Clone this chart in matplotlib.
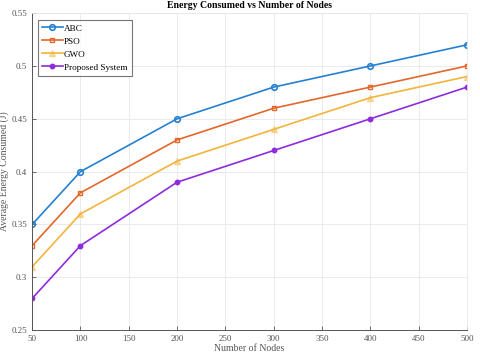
import matplotlib.pyplot as plt

nodes = [50, 100, 200, 300, 400, 500]
abc = [0.35, 0.40, 0.45, 0.48, 0.50, 0.52]
pso = [0.33, 0.38, 0.43, 0.46, 0.48, 0.50]
gwo = [0.31, 0.36, 0.41, 0.44, 0.47, 0.49]
proposed = [0.28, 0.33, 0.39, 0.42, 0.45, 0.48]

x_ticks = [50, 100, 150, 200, 250, 300, 350, 400, 450, 500]
y_ticks = [0.25, 0.3, 0.35, 0.4, 0.45, 0.5, 0.55]
y_labels = ['0.25', '0.3', '0.35', '0.4', '0.45', '0.5', '0.55']

plt.rcParams['font.family'] = ['Liberation Serif', 'DejaVu Serif']

fig = plt.figure(figsize=(4.8, 3.64), dpi=100)
ax = fig.add_axes([0.067, 0.093, 0.906, 0.871])

ax.plot(nodes, abc, color='#2680D0', marker='o', ms=4, mfc='none', mew=1.2, lw=1.2, label='ABC')
ax.plot(nodes, pso, color='#E4672A', marker='s', ms=3.5, mfc='none', mew=1.0, lw=1.2, label='PSO')
ax.plot(nodes, gwo, color='#F2B43A', marker='^', ms=4.5, mfc=(0.95, 0.71, 0.23, 0.45), mew=1.0, lw=1.2, label='GWO')
ax.plot(nodes, proposed, color='#8E2BDE', marker='o', ms=3.2, mfc='#8E2BDE', lw=1.2, label='Proposed System')

ax.set_xlim(50, 500)
ax.set_ylim(0.25, 0.55)
ax.set_xticks(x_ticks)
ax.set_yticks(y_ticks)
ax.set_yticklabels(y_labels)
ax.tick_params(labelsize=6.5, colors='#555555', direction='in', length=3, width=0.6)
ax.grid(True, color='#e8e8e8', lw=0.6)
ax.set_axisbelow(True)
for side in ['left', 'bottom']:
    ax.spines[side].set_color('#555555')
    ax.spines[side].set_linewidth(0.7)
for side in ['top', 'right']:
    ax.spines[side].set_color('#e8e8e8')
    ax.spines[side].set_linewidth(0.6)

ax.set_title('Energy Consumed vs Number of Nodes', fontsize=7, fontweight='bold', pad=4)
ax.set_xlabel('Number of Nodes', fontsize=7, color='#555555', labelpad=1)
ax.set_ylabel('Average Energy Consumed (J)', fontsize=7, color='#555555', labelpad=2)

leg = ax.legend(loc='upper left', fontsize=6.6, fancybox=False, edgecolor='#555555',
                borderpad=0.45, handlelength=2.3, handletextpad=0.1, labelspacing=0.5,
                bbox_to_anchor=(0.013, 0.978), borderaxespad=0)
leg.get_frame().set_linewidth(0.8)

fig.savefig('out.png', dpi=100)
